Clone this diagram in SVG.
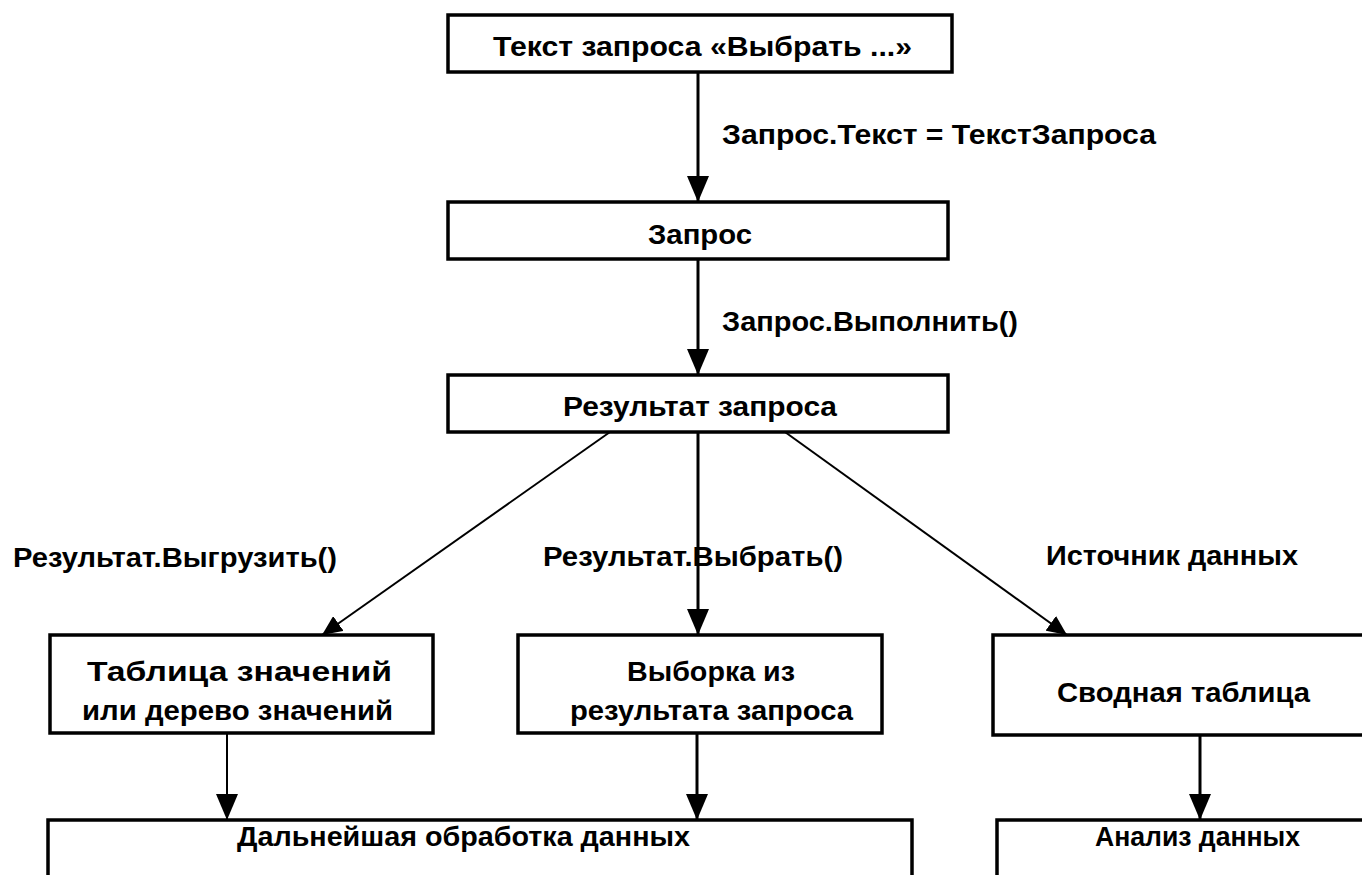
<svg xmlns="http://www.w3.org/2000/svg" width="1362" height="875" viewBox="0 0 1362 875">
<style>
.box{fill:#fff;stroke:#000;stroke-width:3.5}
.t{font-family:"Liberation Sans",Arial,sans-serif;font-weight:bold;font-size:27px;fill:#000}
.c{fill:none;stroke:#000;stroke-width:3}
.d{fill:none;stroke:#000;stroke-width:2}
</style>
<defs>
<marker id="ah" viewBox="0 0 26 22" refX="26" refY="11" markerWidth="26" markerHeight="22" markerUnits="userSpaceOnUse" orient="auto">
<path d="M0,0 L26,11 L0,22 Z" fill="#000"/>
</marker>
<marker id="ahs" viewBox="0 0 20 18" refX="20" refY="9" markerWidth="20" markerHeight="18" markerUnits="userSpaceOnUse" orient="auto">
<path d="M0,0 L20,9 L0,18 Z" fill="#000"/>
</marker>
</defs>
<rect width="1362" height="875" fill="#fff"/>
<g id="connectors">
<line class="c" x1="698" y1="72" x2="698" y2="202" marker-end="url(#ah)"/>
<line class="c" x1="698" y1="259" x2="698" y2="375" marker-end="url(#ah)"/>
<line class="d" x1="610" y1="432" x2="322" y2="635" marker-end="url(#ahs)"/>
<line class="c" x1="698" y1="432" x2="698" y2="635" marker-end="url(#ah)"/>
<line class="d" x1="785" y1="432" x2="1067" y2="635" marker-end="url(#ahs)"/>
<line class="d" x1="227" y1="733" x2="227" y2="820" marker-end="url(#ah)"/>
<line class="c" x1="697" y1="733" x2="697" y2="820" marker-end="url(#ah)"/>
<line class="c" x1="1200" y1="735" x2="1200" y2="820" marker-end="url(#ah)"/>
<text class="t" x="722" y="144" textLength="434" lengthAdjust="spacingAndGlyphs">Запрос.Текст = ТекстЗапроса</text>
<text class="t" x="722" y="331" textLength="296" lengthAdjust="spacingAndGlyphs">Запрос.Выполнить()</text>
<text class="t" x="13" y="567" textLength="324" lengthAdjust="spacingAndGlyphs">Результат.Выгрузить()</text>
<text class="t" x="543" y="566" textLength="300" lengthAdjust="spacingAndGlyphs">Результат.Выбрать()</text>
<text class="t" x="1046" y="565" textLength="252" lengthAdjust="spacingAndGlyphs">Источник данных</text>
</g>
<g id="n-text">
<rect class="box" x="448" y="15" width="504" height="57"/>
<text class="t" x="493" y="56" textLength="419" lengthAdjust="spacingAndGlyphs">Текст запроса «Выбрать ...»</text>
</g>
<g id="n-query">
<rect class="box" x="448" y="202" width="500" height="57"/>
<text class="t" x="648" y="244" textLength="104" lengthAdjust="spacingAndGlyphs">Запрос</text>
</g>
<g id="n-result">
<rect class="box" x="448" y="375" width="500" height="57"/>
<text class="t" x="563" y="416" textLength="274" lengthAdjust="spacingAndGlyphs">Результат запроса</text>
</g>
<g id="n-table">
<rect class="box" x="50" y="635" width="383" height="98"/>
<text class="t" x="87" y="681" textLength="305" lengthAdjust="spacingAndGlyphs">Таблица значений</text>
<text class="t" x="82" y="720" textLength="311" lengthAdjust="spacingAndGlyphs">или дерево значений</text>
</g>
<g id="n-selection">
<rect class="box" x="518" y="635" width="364" height="98"/>
<text class="t" x="627" y="681" textLength="168" lengthAdjust="spacingAndGlyphs">Выборка из</text>
<text class="t" x="570" y="720" textLength="283" lengthAdjust="spacingAndGlyphs">результата запроса</text>
</g>
<g id="n-pivot">
<rect class="box" x="993" y="635" width="380" height="100"/>
<text class="t" x="1057" y="702" textLength="253" lengthAdjust="spacingAndGlyphs">Сводная таблица</text>
</g>
<g id="n-processing">
<rect class="box" x="48" y="820" width="864" height="80"/>
<text class="t" x="237" y="846" textLength="453" lengthAdjust="spacingAndGlyphs">Дальнейшая обработка данных</text>
</g>
<g id="n-analysis">
<rect class="box" x="997" y="820" width="380" height="80"/>
<text class="t" x="1095" y="846" textLength="205" lengthAdjust="spacingAndGlyphs">Анализ данных</text>
</g>
</svg>
